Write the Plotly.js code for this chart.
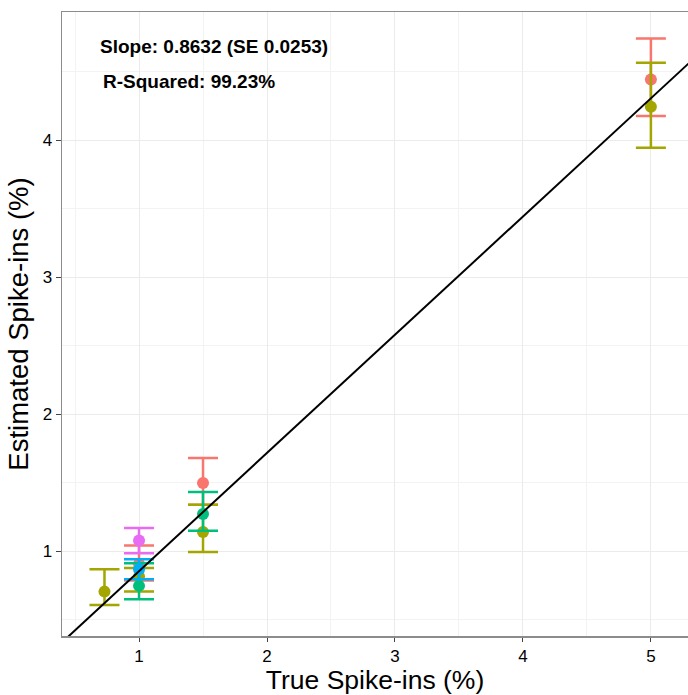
<!DOCTYPE html>
<html>
<head>
<meta charset="utf-8">
<script src="https://cdn.plot.ly/plotly-3.0.1.min.js"></script>
<style>html,body{margin:0;padding:0;background:#fff;}#chart{width:688px;height:695px;}</style>
</head>
<body>
<div id="chart"></div>
<script>
// Data
const groups = ["A", "B", "C", "D", "E"];
const colors = ["#F8766D", "#A3A500", "#00BF7D", "#00B0F6", "#E76BF3"];

const trueA = [1, 1.5, 5];
const estA = [0.905, 1.497, 4.444];
const lowA = [0.785, 1.339, 4.176];
const highA = [1.041, 1.680, 4.742];

const trueB = [0.73, 1, 1.5, 5];
const estB = [0.704, 0.815, 1.139, 4.244];
const lowB = [0.607, 0.704, 0.993, 3.944];
const highB = [0.868, 0.876, 1.339, 4.566];

const trueC = [1, 1.5];
const estC = [0.746, 1.271];
const lowC = [0.649, 1.149];
const highC = [0.912, 1.432];

const trueD = [1];
const estD = [0.868];
const lowD = [0.795];
const highD = [0.941];

const trueE = [1];
const estE = [1.078];
const lowE = [0.985];
const highE = [1.168];

const fitSlope = 0.8632;
const fitIntercept = -0.01;
const fitX = [0.3, 5.4];

const xTicks = [1, 2, 3, 4, 5];
const yTicks = [1, 2, 3, 4];

const series = [
  [trueA, estA, lowA, highA],
  [trueB, estB, lowB, highB],
  [trueC, estC, lowC, highC],
  [trueD, estD, lowD, highD],
  [trueE, estE, lowE, highE]
];

const traces = [];
series.forEach((s, i) => {
  const [x, y, lo, hi] = s;
  traces.push({
    type: "scatter", mode: "markers", name: groups[i],
    x: x, y: y,
    marker: {color: colors[i], size: 12},
    error_y: {
      type: "data", symmetric: false,
      array: hi.map((h, k) => h - y[k]),
      arrayminus: lo.map((l, k) => y[k] - l),
      color: colors[i], thickness: 2.5, width: 15
    },
    showlegend: false
  });
});
traces.push({
  type: "scatter", mode: "lines",
  x: fitX, y: fitX.map(v => fitSlope * v + fitIntercept),
  line: {color: "#000000", width: 2},
  showlegend: false, hoverinfo: "skip"
});

const font = "Liberation Sans, Arial, sans-serif";
const layout = {
  width: 688, height: 695,
  margin: {l: 62, r: 0, t: 12, b: 59},
  paper_bgcolor: "#ffffff", plot_bgcolor: "#ffffff",
  font: {family: font, color: "#000"},
  xaxis: {
    range: [0.398, 5.29], tickvals: xTicks, ticktext: xTicks.map(String),
    tickfont: {size: 17, color: "#000"},
    ticks: "outside", ticklen: 4, tickcolor: "#444", tickwidth: 1,
    showgrid: true, gridcolor: "#EBEBEB", gridwidth: 1,
    minor: {dtick: 0.5, showgrid: true, gridcolor: "#F3F3F3", gridwidth: 1, ticks: ""},
    showline: true, mirror: true, linecolor: "#8C8C8C", linewidth: 1.5,
    zeroline: false,
    title: {text: "True Spike-ins (%)", font: {size: 26.5, color: "#000"}, standoff: 3}
  },
  yaxis: {
    range: [0.380, 4.936], tickvals: yTicks, ticktext: yTicks.map(String),
    tickfont: {size: 17, color: "#000"},
    ticks: "outside", ticklen: 5, tickcolor: "#444", tickwidth: 1,
    showgrid: true, gridcolor: "#EBEBEB", gridwidth: 1,
    minor: {dtick: 0.5, showgrid: true, gridcolor: "#F3F3F3", gridwidth: 1, ticks: ""},
    showline: true, mirror: false, linecolor: "#8C8C8C", linewidth: 1.5,
    zeroline: false,
    title: {text: "Estimated Spike-ins (%)", font: {size: 27.5, color: "#000"}, standoff: 6}
  },
  annotations: [
    {xref: "paper", yref: "paper", x: 0.0575, y: 0.944, xanchor: "left", yanchor: "middle",
     text: "<b>Slope: 0.8632 (SE 0.0253)</b>", showarrow: false, font: {size: 19, color: "#000"}},
    {xref: "paper", yref: "paper", x: 0.062, y: 0.888, xanchor: "left", yanchor: "middle",
     text: "<b>R-Squared: 99.23%</b>", showarrow: false, font: {size: 19, color: "#000"}}
  ]
};

Plotly.newPlot("chart", traces, layout, {displayModeBar: false, staticPlot: true});
</script>
</body>
</html>
